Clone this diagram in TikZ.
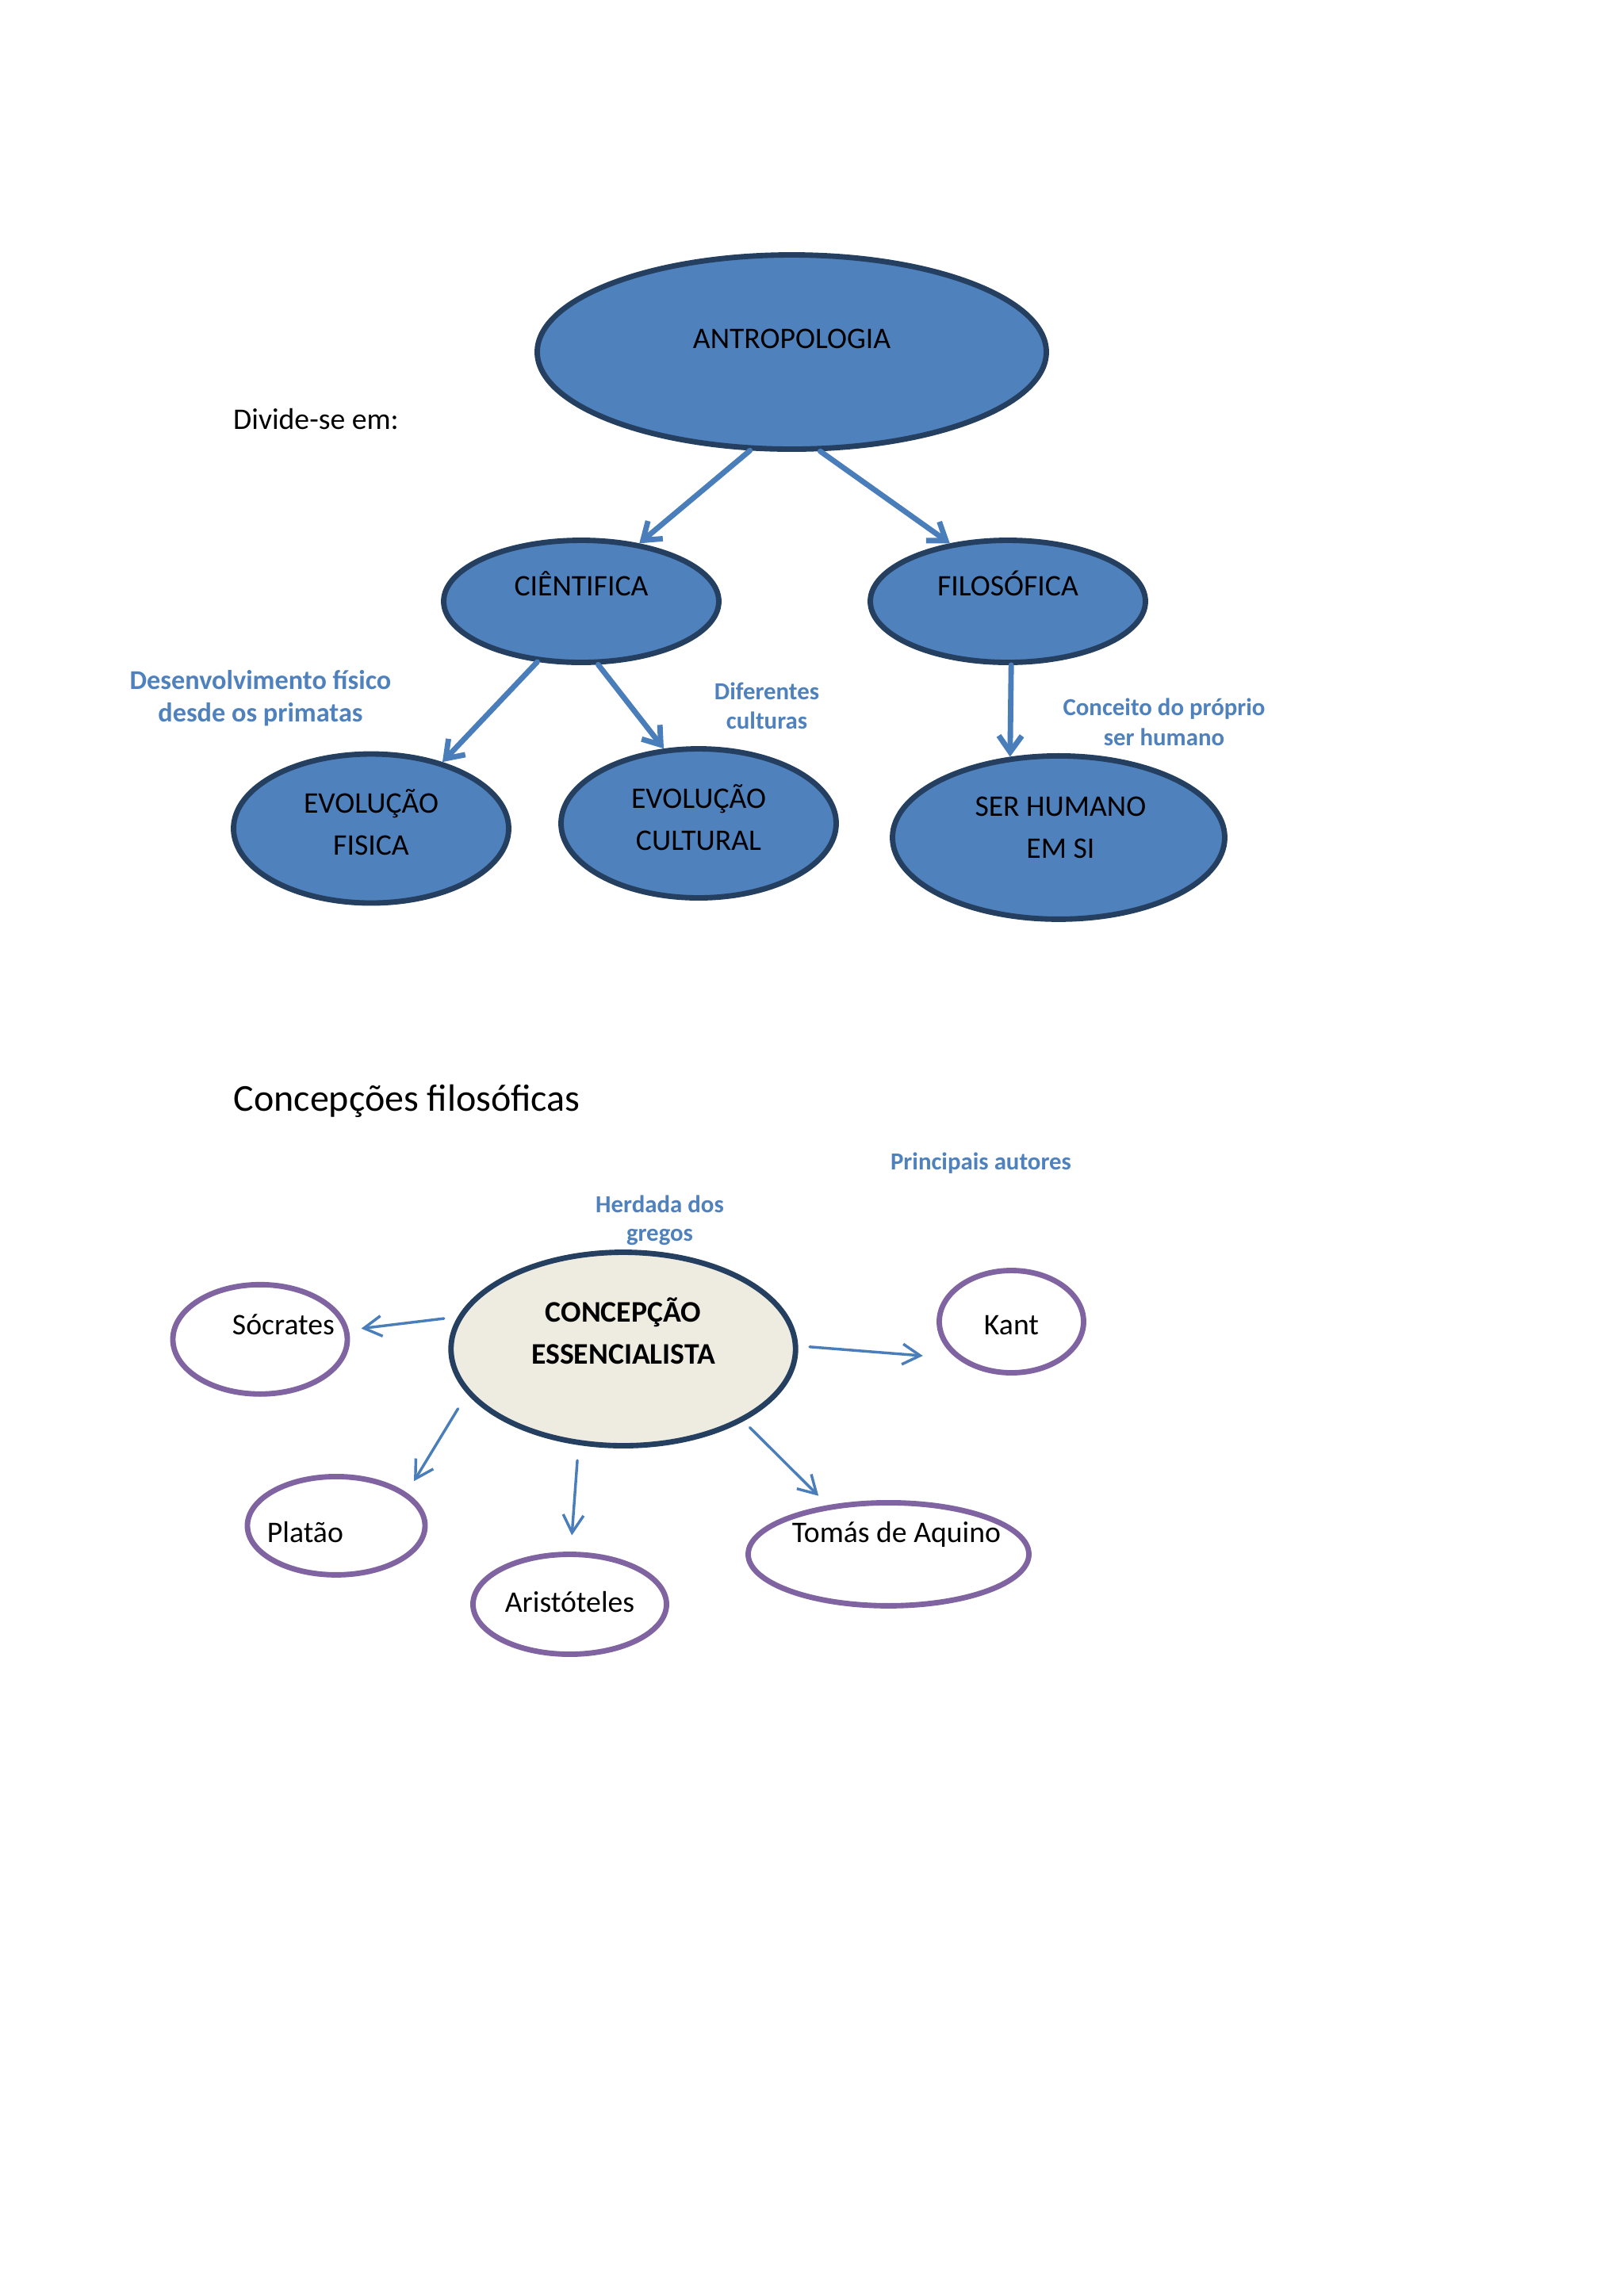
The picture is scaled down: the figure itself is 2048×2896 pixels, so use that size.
\documentclass[tikz,border=0pt]{standalone}
\usepackage{fontspec}
\setmainfont{Carlito}
\usetikzlibrary{shapes.geometric,arrows.meta}
\definecolor{acc}{HTML}{4F81BD}
\definecolor{navy}{HTML}{243F60}
\definecolor{arrblue}{HTML}{4A7EBB}
\definecolor{lblblue}{HTML}{4F81BD}
\definecolor{purp}{HTML}{8064A2}
\definecolor{beige}{HTML}{EEECE1}
\newlength\pxu
\setlength\pxu{0.010254cm}
\newcommand\etxt[3]{\raisebox{#2}[0pt][0pt]{\makebox[0pt]{\kern#1\kern#1\begin{tabular}{@{}c@{}}#3\end{tabular}}}}
\newcommand\ltxt[1]{\begin{tabular}[t]{@{}c@{}}#1\end{tabular}}
\tikzset{
  sz/.style n args={2}{minimum width=#1*\pxu, minimum height=#2*\pxu},
  bigell/.style={ellipse, draw=navy, fill=acc, line width=2pt, inner sep=0pt, font=\fontsize{11}{15.5}\selectfont},
  concell/.style={ellipse, draw=navy, fill=beige, line width=2pt, inner sep=0pt, font=\bfseries\fontsize{11}{15.5}\selectfont},
  authell/.style={ellipse, draw=purp, fill=white, line width=2pt, inner sep=0pt, font=\fontsize{11}{15.5}\selectfont},
  bigarr/.style={draw=arrblue, line width=2pt, line cap=round, -{Straight Barb[length=6pt,width=8.5pt]}},
  thinarr/.style={draw=arrblue, line width=1pt, line cap=round, -{Straight Barb[length=6.5pt,width=7.5pt]}},
  lbl/.style={text=lblblue, font=\bfseries\fontsize{9}{11}\selectfont, inner sep=0pt, anchor=base},
  freetxt/.style={inner sep=0pt, anchor=base west},
}
\begin{document}
\begin{tikzpicture}[x=0.010254cm, y=-0.010254cm]
\fill[white] (0,0) rectangle (2048,2896);
\path[use as bounding box] (0,0) rectangle (2048,2896);

% top map
\node[bigell, sz={642}{245}] (antro) at (998.5,444) {\etxt{0pt}{1.77pt}{ANTROPOLOGIA}};
\node[bigell, sz={347}{154}] (cient) at (733,758.5) {\etxt{0pt}{2.35pt}{CIÊNTIFICA}};
\node[bigell, sz={347}{154}] (filo) at (1271,758.5) {\etxt{0pt}{2.35pt}{FILOSÓFICA}};
\node[bigell, sz={347}{188}] (evolF) at (468,1045) {\etxt{0pt}{-1.79pt}{EVOLUÇÃO\\FISICA}};
\node[bigell, sz={347}{188}] (evolC) at (881,1038.5) {\etxt{0pt}{-1.91pt}{EVOLUÇÃO\\CULTURAL}};
\node[bigell, sz={419}{206}] (ser) at (1335,1056.4) {\etxt{0.7pt}{0.38pt}{SER HUMANO\\EM SI}};

\draw[bigarr] (antro.247.6) -- (cient.45.7);
\draw[bigarr] (antro.286) -- (filo.135.7);
\draw[bigarr] (cient.234.2) -- (evolF.43);
\draw[bigarr] (cient.285.2) -- (evolC.115.9);
\draw[bigarr] (filo.273) -- (ser.121.4);

\node[freetxt, font=\fontsize{11}{13}\selectfont] (divide) at (293.5,541.7) {Divide-se em:};
\node[lbl, font=\bfseries\fontsize{10}{12}\selectfont] (ldes) at (328.5,869.2) {\ltxt{Desenvolvimento físico\\desde os primatas}};
\node[lbl] (ldif) at (967,882.2) {\ltxt{Diferentes\\culturas}};
\node[lbl] (lcon) at (1468,902.5) {\ltxt{Conceito do próprio\\ser humano}};

% bottom map
\node[freetxt, font=\fontsize{14}{17}\selectfont] (concfil) at (294,1401.7) {Concepções filosóficas};
\node[lbl] (lprin) at (1237,1475) {Principais autores};
\node[lbl, font=\bfseries\fontsize{9}{10.5}\selectfont] (lher) at (832,1529.3) {\ltxt{Herdada dos\\gregos}};

\node[concell, sz={434.5}{244}] (concept) at (786,1701.5) {\etxt{0pt}{2.64pt}{CONCEPÇÃO\\ESSENCIALISTA}};
\node[authell, sz={220}{138}] (socr) at (328,1689.3) {\etxt{8.6pt}{2.18pt}{Sócrates}};
\node[authell, sz={182}{129}] (kant) at (1275.5,1667) {\etxt{0pt}{-4.5pt}{Kant}};
\node[authell, sz={224}{124}] (plat) at (424,1924.4) {\etxt{-11.4pt}{-5.82pt}{Platão}};
\node[authell, sz={244}{126}] (arist) at (718.5,2023.5) {\etxt{0pt}{-2.46pt}{Aristóteles}};
\node[authell, sz={354}{130}] (tomas) at (1120.5,1960.4) {\etxt{2.9pt}{4.69pt}{Tomás de Aquino}};

\draw[thinarr, shorten <=17.5*\pxu, shorten >=15.8*\pxu] (concept.169.2) -- (socr.6.9);
\draw[thinarr, shorten <=14.6*\pxu, shorten >=43*\pxu] (concept.1.4) -- (kant.214.3);
\draw[thinarr, shorten <=22*\pxu, shorten >=17.2*\pxu] (concept.196.7) -- (plat.25.3);
\draw[thinarr, shorten <=19.3*\pxu, shorten >=20.6*\pxu] (concept.245.8) -- (arist.89.6);
\draw[thinarr, shorten <=11.3*\pxu, shorten >=16.6*\pxu] (concept.329.9) -- (tomas.141.4);
\end{tikzpicture}
\end{document}
